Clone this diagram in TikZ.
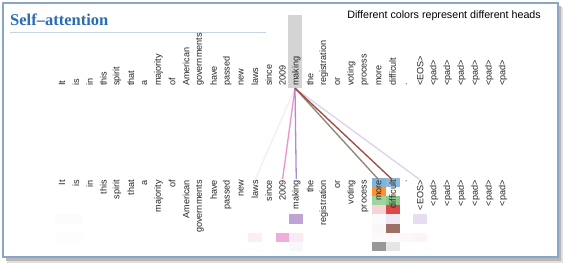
\documentclass[tikz,border=0pt]{standalone}
\usepackage{fontspec}
\setmainfont{Liberation Sans}
\newfontfamily\titlefont{Liberation Serif}
\usepackage{xcolor}
\usetikzlibrary{calc}

\definecolor{hblue}{HTML}{1F77B4}
\definecolor{horange}{HTML}{FF7F0E}
\definecolor{hgreen}{HTML}{2CA02C}
\definecolor{hred}{HTML}{D62728}
\definecolor{hpurple}{HTML}{9467BD}
\definecolor{hbrown}{HTML}{8C564B}
\definecolor{hpink}{HTML}{E377C2}
\definecolor{hgray}{HTML}{7F7F7F}
\definecolor{titleblue}{HTML}{2A6DB2}
\definecolor{framec}{HTML}{8AA6C6}
\definecolor{rulec}{HTML}{C6D4E4}
\definecolor{hlgray}{HTML}{D4D4D4}

\begin{document}
\begin{tikzpicture}[x=1pt, y=-1pt,
  tok/.style={font=\fontsize{9.1}{10}\selectfont, text=black!85, inner sep=0pt, rotate=90},
  link/.style={line width=1.3pt, shorten >=1pt},
  cell/.style={fill opacity=#1}
]
\useasboundingbox (0,0) rectangle (568,267);
\fill[black!12] (7,7) rectangle (563,263);
\fill[black!28] (6,6) rectangle (561,261);
\draw[framec, line width=1.3pt, fill=white] (3,3) rectangle (558,257);

\node[anchor=base west, inner sep=0pt, text=titleblue, font=\titlefont\bfseries\fontsize{16.5}{18}\selectfont] (title) at (10,26) {Self–attention};
\draw[rulec, line width=1pt] (10,33) -- (266,33);
\node[anchor=base east, inner sep=0pt, font=\fontsize{10.7}{12}\selectfont] (note) at (541,19) {Different colors represent different heads};

\node[fill=hlgray, minimum width=14pt, minimum height=73pt, inner sep=0pt] (hl) at (295,51.5) {};

\foreach \w [count=\i] in {It,is,in,this,spirit,that,a,majority,of,American,governments,have,passed,new,laws,since,2009,making,the,registration,or,voting,process,more,difficult,.,<EOS>,<pad>,<pad>,<pad>,<pad>,<pad>,<pad>} {
  \pgfmathsetmacro\xx{62+(\i-1)*13.78}
  \node[tok, anchor=west] (t\i) at (\xx,86) {\w};
  \coordinate (c\i) at (\xx,178);
}

\foreach \c/\r/\col/\op in {24/1/hblue/.55, 25/1/hblue/.5,
  24/2/horange/.85, 25/2/horange/.04,
  24/3/hgreen/.45, 25/3/hgreen/.55,
  24/4/hred/.2, 25/4/hred/.85,
  1/5/hgray/.015, 2/5/hgray/.015, 18/5/hpurple/.6, 24/5/hpurple/.03, 25/5/hpurple/.15, 27/5/hpurple/.22,
  24/6/hbrown/.04, 25/6/hbrown/.85,
  1/7/hpink/.02, 2/7/hpink/.02, 15/7/hpink/.12, 17/7/hpink/.6, 18/7/hpink/.15, 24/7/hpink/.04, 25/7/hpink/.04, 26/7/hpink/.06, 27/7/hpink/.08,
  18/8/hgray/.05, 24/8/hgray/.8, 25/8/hgray/.2}
  \fill[\col, cell=\op] ($(c\c)+(-6.9,{(\r-1)*9.1})$) rectangle ++(13.8,9.1);

\foreach \w [count=\i] in {It,is,in,this,spirit,that,a,majority,of,American,governments,have,passed,new,laws,since,2009,making,the,registration,or,voting,process,more,difficult,.,<EOS>,<pad>,<pad>,<pad>,<pad>,<pad>,<pad>} {
  \pgfmathsetmacro\xx{62+(\i-1)*13.78}
  \node[tok, anchor=east] (b\i) at (\xx,180) {\w};
}

\foreach \j/\col/\op in {15/hpink/.15, 17/hpink/.8, 18/hpurple/.75, 27/hpurple/.3, 24/hgray/.95, 24/horange/.15, 25/hbrown/.95, 25/hred/.3}
  \draw[link, \col, opacity=\op] (hl.south) -- (b\j.east);
\end{tikzpicture}
\end{document}
